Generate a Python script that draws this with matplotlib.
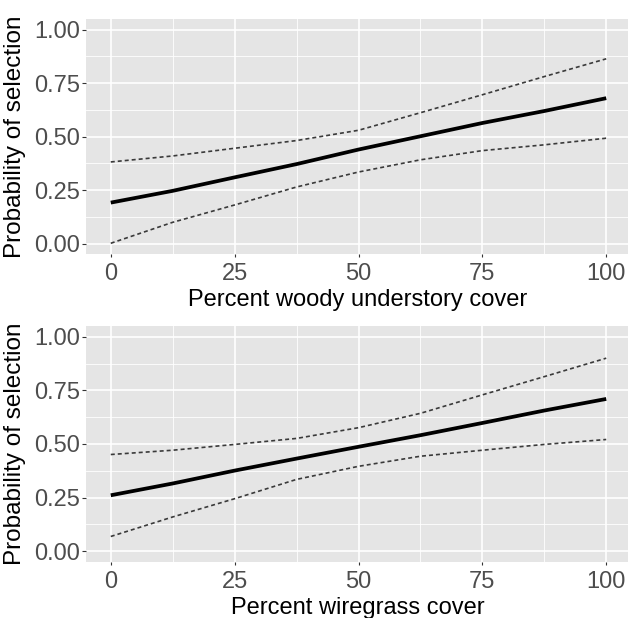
import matplotlib.pyplot as plt

plt.rcParams["font.family"] = ["Liberation Sans", "DejaVu Sans"]

# data
cover = [0, 12.5, 25, 37.5, 50, 62.5, 75, 87.5, 100]

woody_mean = [0.192, 0.247, 0.310, 0.372, 0.440, 0.502, 0.564, 0.620, 0.680]
woody_upper = [0.382, 0.410, 0.446, 0.482, 0.530, 0.612, 0.696, 0.781, 0.864]
woody_lower = [0.002, 0.100, 0.181, 0.265, 0.335, 0.392, 0.435, 0.462, 0.493]

wire_mean = [0.261, 0.316, 0.376, 0.432, 0.487, 0.541, 0.598, 0.656, 0.710]
wire_upper = [0.451, 0.471, 0.498, 0.526, 0.576, 0.643, 0.729, 0.814, 0.900]
wire_lower = [0.069, 0.160, 0.245, 0.335, 0.396, 0.443, 0.471, 0.498, 0.521]

x_ticks = [0, 25, 50, 75, 100]
y_ticks = [0.0, 0.25, 0.5, 0.75, 1.0]
y_ticklabels = ["0.00", "0.25", "0.50", "0.75", "1.00"]

panels = [
    ("Percent woody understory cover", woody_mean, woody_upper, woody_lower),
    ("Percent wiregrass cover", wire_mean, wire_upper, wire_lower),
]

fig = plt.figure(figsize=(6.28, 6.18), dpi=100)
W, H = 628, 618
# axes boxes in pixels: left, top, right, bottom
boxes = [(86, 19, 631, 254.4), (86, 326, 631, 562)]

for (xlabel, mean, upper, lower), (l, t, r, b) in zip(panels, boxes):
    ax = fig.add_axes([l / W, (H - b) / H, (r - l) / W, (b - t) / H])
    ax.set_facecolor("#e5e5e5")
    for s in ax.spines.values():
        s.set_visible(False)

    ax.plot(cover, upper, color="#3a3a3a", lw=1.2, ls=(0, (2.4, 1.8)))
    ax.plot(cover, lower, color="#3a3a3a", lw=1.2, ls=(0, (2.4, 1.8)))
    ax.plot(cover, mean, color="black", lw=2.7, solid_capstyle="butt")

    ax.set_xlim(-5, 105)
    ax.set_ylim(-0.05, 1.05)
    ax.set_xticks(x_ticks)
    ax.set_yticks(y_ticks)
    ax.set_yticklabels(y_ticklabels)
    ax.set_xticks([12.5, 37.5, 62.5, 87.5], minor=True)
    ax.set_yticks([0.125, 0.375, 0.625, 0.875], minor=True)
    ax.grid(which="major", color="white", lw=1.2)
    ax.grid(which="minor", color="white", lw=0.6)
    ax.set_axisbelow(True)

    ax.tick_params(which="minor", length=0)
    ax.tick_params(axis="x", which="major", length=2.5, width=0.8, color="#333333",
                   pad=4, labelsize=17, labelcolor="#4d4d4d")
    ax.tick_params(axis="y", which="major", length=3, width=0.8, color="#333333",
                   pad=1, labelsize=17, labelcolor="#4d4d4d")

    ax.set_xlabel(xlabel, fontsize=17, color="black")
    ax.xaxis.set_label_coords((358 - l) / (r - l), -35 / (b - t))
    ax.set_ylabel("Probability of selection", fontsize=17.5, color="black")
    ax.yaxis.set_label_coords((26 - l) / (r - l), 0.5)

fig.savefig("out.png", dpi=100)
